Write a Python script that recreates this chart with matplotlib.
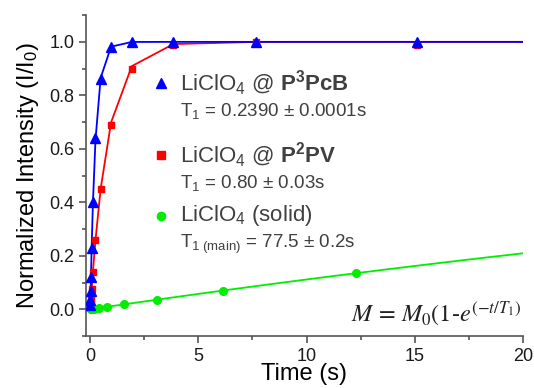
import numpy as np
import matplotlib
matplotlib.use("Agg")
import matplotlib.pyplot as plt
from matplotlib.ticker import MultipleLocator

plt.rcParams['font.family'] = ['Liberation Sans', 'DejaVu Sans']
plt.rcParams['mathtext.fontset'] = 'custom'
plt.rcParams['mathtext.rm'] = 'Liberation Sans'
plt.rcParams['mathtext.it'] = 'Liberation Sans:italic'
plt.rcParams['mathtext.bf'] = 'Liberation Sans:bold'

# recovery data, time in seconds
t_pcb = [0.004, 0.0075, 0.015, 0.03, 0.06, 0.12, 0.24, 0.48, 0.96, 1.92, 3.84, 7.68, 15.1]
m_pcb = [0.015, 0.035, 0.07, 0.12, 0.23, 0.40, 0.64, 0.86, 0.98, 1.0, 1.0, 1.0, 1.0]
t_ppv = [0.015, 0.03, 0.06, 0.12, 0.24, 0.48, 0.96, 1.92, 3.84, 7.68, 15.1]
m_ppv = [0.02, 0.04, 0.075, 0.14, 0.26, 0.45, 0.69, 0.90, 0.99, 1.0, 0.99]
t_solid = [0.012, 0.024, 0.048, 0.096, 0.19, 0.38, 0.77, 1.54, 3.07, 6.14, 12.29]
m_solid = [0.0, 0.0, 0.001, 0.001, 0.002, 0.004, 0.009, 0.018, 0.036, 0.070, 0.137]

# fitted T1 values
T1_pcb = 0.2390
T1_ppv = 0.80
T1_solid = 77.5
amp_solid = 0.92
t_end = 20

blue = '#0000ff'
red = '#ff0000'
green = '#00ee00'
grey_txt = '#404040'

fig = plt.figure(figsize=(5.34, 3.88), dpi=100)
ax = fig.add_axes([0.161, 0.134, 0.818, 0.827])

def fit(t, T1, a=1.0):
    t = np.asarray(t, dtype=float)
    return a * (1 - np.exp(-t / T1))

# fit lines
tf = np.append([0.0], np.append(t_ppv, t_end))
ax.plot(tf, fit(tf, T1_ppv), color=red, lw=1.3, zorder=2)
tf = np.append([0.0], np.append(t_pcb, t_end))
ax.plot(tf, fit(tf, T1_pcb), color=blue, lw=1.3, zorder=3)
tf = np.linspace(0, t_end, 50)
ax.plot(tf, fit(tf, T1_solid, amp_solid), color=green, lw=1.3, zorder=2)

ax.plot(t_ppv, m_ppv, 's', color=red, ms=5, zorder=4)
ax.plot(t_pcb, m_pcb, '^', color=blue, ms=7, zorder=5)
ax.plot(t_solid, m_solid, 'o', color=green, ms=5.5, zorder=4)

ax.set_xlim(-0.2, 20)
ax.set_ylim(-0.1, 1.1)
ax.xaxis.set_major_locator(MultipleLocator(5))
ax.xaxis.set_minor_locator(MultipleLocator(2.5))
ax.yaxis.set_minor_locator(MultipleLocator(0.1))
ax.set_yticks([0, 0.2, 0.4, 0.6, 0.8, 1.0])
ax.set_yticklabels(['0.0', '0.2', '0.4', '0.6', '0.8', '1.0'])

for s in ['top', 'right']:
    ax.spines[s].set_visible(False)
for s in ['left', 'bottom']:
    ax.spines[s].set_color('#555555')
    ax.spines[s].set_linewidth(1.2)
ax.tick_params(which='major', length=5, width=1.2, color='#555555',
               labelsize=13, labelcolor='#1a1a1a')
ax.tick_params(which='minor', length=3, width=1.2, color='#555555')

ax.set_xlabel('Time (s)', fontsize=17, labelpad=-1)
ax.set_ylabel('Normalized Intensity (I/I$_\\mathregular{0}$)', fontsize=17, labelpad=6)

# legend drawn by hand
def entry(y_px, marker, color, ms, title, sub):
    xm, xt = 161 / 534, 180 / 534
    fig.lines.append(plt.Line2D([xm], [1 - y_px / 388], marker=marker, color=color,
                                ms=ms, transform=fig.transFigure, ls='none'))
    fig.text(xt, 1 - y_px / 388, title, fontsize=16, color=grey_txt, va='center')
    fig.text(xt, 1 - (y_px + 28) / 388, sub, fontsize=13.5, color=grey_txt, va='center')

entry(83, '^', blue, 7, 'LiClO$_\\mathregular{4}$ @ $\\mathbf{P^3PcB}$',
      'T$_\\mathregular{1}$ = 0.2390 ± 0.0001s')
entry(155, 's', red, 5.5, 'LiClO$_\\mathregular{4}$ @ $\\mathbf{P^2PV}$',
      'T$_\\mathregular{1}$ = 0.80 ± 0.03s')
entry(216, 'o', green, 6, 'LiClO$_\\mathregular{4}$ (solid)',
      'T$_\\mathregular{1\\ (main)}$ = 77.5 ± 0.2s')

fig.text(521 / 534, 1 - 314 / 388, '$M\\,=\\,M_0$(1-$e^{(-t/T_1)}$',
         fontsize=17.5, color='#222222', ha='right', va='center',
         math_fontfamily='stix', family='STIXGeneral')

fig.savefig('out.png', dpi=100)
